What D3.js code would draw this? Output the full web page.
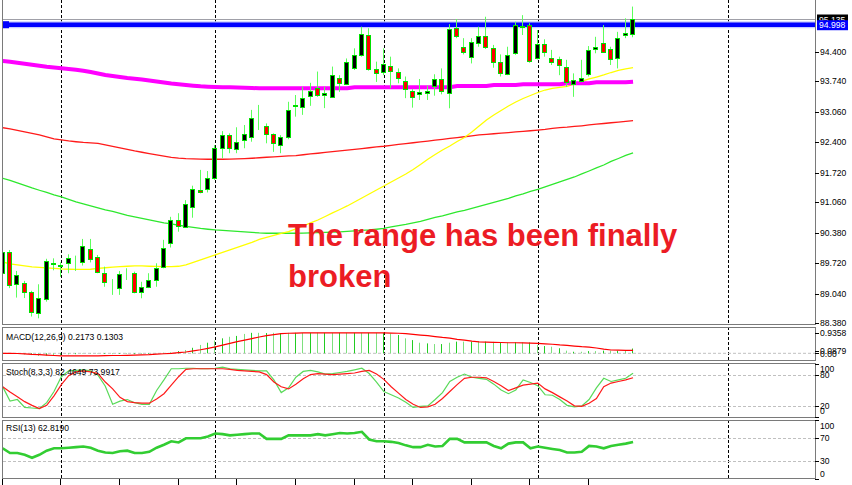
<!DOCTYPE html>
<html><head><meta charset="utf-8">
<script src="https://cdn.jsdelivr.net/npm/d3@7"></script>
<style>body{margin:0;background:#fff;}svg{display:block;font-family:"Liberation Sans",Arial,sans-serif;}</style>
</head><body>
<svg id="c" width="852" height="485"></svg>
<script>
// ---------- DATA ----------
const open = [89.496,89.96,89.245,89.28,89.07,88.60,88.92,89.695,89.64,89.72,
89.755,89.73,90.02,89.86,89.49,89.22,89.17,89.44,89.49,89.08,
89.19,89.34,89.635,90.155,90.67,90.52,90.965,91.335,91.36,91.61,
92.26,92.555,92.24,92.44,92.50,92.90,92.755,92.57,92.33,92.515,
93.19,93.17,93.42,93.59,93.43,93.40,93.81,93.685,94.03,94.33,
94.77,94.01,93.94,94.09,93.96,93.75,93.53,93.46,93.48,93.65,
93.795,93.48,94.93,94.51,94.29,94.60,94.755,94.49,94.165,93.91,
94.365,94.95,94.99,94.25,94.565,94.25,94.23,94.07,93.685,93.76,
93.91,94.46,94.60,94.45,94.25,94.77,94.79];
const close = [89.962,89.23,89.45,89.08,88.63,88.95,89.76,89.71,89.67,89.82,
89.77,90.10,89.81,89.51,89.30,89.235,89.47,89.46,89.08,89.19,
89.34,89.61,90.04,90.67,90.545,91.02,91.36,91.28,91.61,92.26,
92.555,92.26,92.39,92.575,92.925,92.915,92.57,92.38,92.515,93.11,
93.21,93.37,93.535,93.44,93.49,93.88,93.70,94.18,94.33,94.79,
94.01,93.92,94.12,93.98,93.81,93.57,93.39,93.51,93.53,93.795,
93.53,94.895,94.75,94.39,94.61,94.75,94.50,94.165,93.92,94.33,
94.99,94.97,94.20,94.565,94.40,94.165,94.105,93.735,93.77,93.81,
94.44,94.51,94.40,94.24,94.70,94.81,95.12];
const high = [90.05,90.005,89.54,89.32,89.10,89.245,89.81,89.82,89.73,89.91,
89.88,90.25,90.25,89.895,89.635,89.36,89.54,89.60,89.525,89.30,
89.49,89.71,90.23,90.74,90.82,91.11,91.43,91.78,91.755,92.33,
92.64,92.59,92.725,92.775,93.11,93.22,92.81,92.59,92.55,93.29,
93.44,93.62,93.71,93.96,93.62,94.07,93.88,94.25,94.475,94.955,
94.92,94.18,94.475,94.29,94.03,93.85,93.57,93.795,93.65,93.90,
94.03,95.01,95.125,94.70,94.70,94.955,95.175,94.55,94.34,94.51,
95.065,95.21,95.03,94.88,94.675,94.44,94.29,94.22,93.92,94.22,
94.525,94.73,94.99,94.51,94.84,95.14,95.40];
const low = [89.385,89.16,88.95,88.94,88.53,88.49,88.86,89.555,89.41,89.49,
89.54,89.66,89.73,89.49,89.19,89.01,89.01,89.34,89.045,88.935,
89.16,89.19,89.60,90.06,90.41,90.50,90.72,91.26,91.28,91.56,
92.04,92.15,92.15,92.26,92.405,92.665,92.37,92.18,92.15,92.46,
92.96,93.00,93.20,93.40,93.15,93.39,93.51,93.66,93.995,94.29,
93.98,93.73,93.88,93.59,93.70,93.37,93.16,93.33,93.33,93.425,
93.455,93.146,94.70,94.34,94.14,94.51,94.46,94.045,93.85,93.88,
94.33,94.77,94.155,94.23,94.29,94.105,93.88,93.62,93.40,93.735,
93.85,94.365,94.38,94.105,94.03,94.70,94.72];

// moving averages
const maMagenta = [94.194,94.176,94.154,94.132,94.110,94.088,94.065,94.048,94.032,94.017,
93.999,93.977,93.950,93.917,93.884,93.862,93.839,93.817,93.800,93.784,
93.762,93.740,93.718,93.695,93.678,93.662,93.647,93.633,93.624,93.618,
93.613,93.611,93.607,93.600,93.596,93.589,93.589,93.589,93.589,93.589,
93.589,93.589,93.589,93.589,93.589,93.589,93.589,93.589,93.611,93.611,
93.611,93.611,93.611,93.611,93.611,93.611,93.611,93.611,93.611,93.611,
93.611,93.611,93.640,93.640,93.640,93.640,93.640,93.662,93.662,93.662,
93.662,93.678,93.678,93.678,93.678,93.678,93.678,93.700,93.700,93.700,
93.700,93.722,93.722,93.722,93.722,93.722,93.735];
const maRed = [92.716,92.688,92.654,92.621,92.588,92.555,92.510,92.466,92.444,92.422,
92.404,92.388,92.377,92.366,92.333,92.300,92.267,92.233,92.200,92.171,
92.140,92.111,92.085,92.060,92.040,92.029,92.023,92.018,92.016,92.016,
92.016,92.018,92.023,92.029,92.038,92.049,92.060,92.069,92.078,92.089,
92.098,92.116,92.134,92.149,92.167,92.185,92.200,92.218,92.233,92.251,
92.271,92.289,92.304,92.324,92.344,92.362,92.382,92.400,92.419,92.439,
92.457,92.477,92.497,92.515,92.535,92.555,92.568,92.581,92.594,92.608,
92.621,92.634,92.648,92.661,92.677,92.699,92.716,92.727,92.743,92.758,
92.776,92.794,92.809,92.825,92.838,92.854,92.871];
const maGreen = [91.595,91.546,91.491,91.435,91.380,91.329,91.280,91.225,91.180,91.125,
91.070,91.025,90.981,90.937,90.892,90.859,90.819,90.770,90.737,90.704,
90.671,90.637,90.604,90.582,90.553,90.527,90.504,90.482,90.465,90.449,
90.438,90.427,90.416,90.405,90.394,90.383,90.376,90.376,90.376,90.376,
90.376,90.378,90.383,90.389,90.394,90.401,90.405,90.416,90.427,90.438,
90.449,90.465,90.482,90.516,90.544,90.571,90.604,90.637,90.682,90.726,
90.759,90.804,90.848,90.881,90.925,90.970,91.014,91.058,91.103,91.147,
91.202,91.247,91.302,91.346,91.402,91.457,91.513,91.568,91.623,91.690,
91.756,91.823,91.889,91.967,92.033,92.100,92.155];
const maYellow = [89.740,89.695,89.673,89.651,89.629,89.618,89.607,89.596,89.585,89.578,
89.574,89.574,89.578,89.596,89.611,89.625,89.636,89.644,89.651,89.651,
89.644,89.640,89.636,89.636,89.644,89.673,89.729,89.784,89.839,89.895,
89.950,90.006,90.061,90.116,90.172,90.238,90.282,90.327,90.371,90.411,
90.471,90.537,90.604,90.670,90.748,90.826,90.903,90.981,91.069,91.158,
91.247,91.335,91.424,91.512,91.601,91.690,91.790,91.900,92.016,92.122,
92.222,92.310,92.410,92.499,92.621,92.754,92.887,92.998,93.097,93.197,
93.285,93.363,93.429,93.496,93.551,93.585,93.607,93.629,93.684,93.740,
93.795,93.839,93.884,93.939,93.984,94.017,94.045];

// MACD(12,26,9)
const macdMain = [0.02,0.00,-0.03,-0.05,-0.08,-0.12,-0.10,-0.08,-0.07,-0.05,
-0.04,-0.02,-0.01,-0.02,-0.03,-0.04,-0.03,-0.03,-0.04,-0.04,
-0.03,-0.01,0.02,0.05,0.10,0.15,0.25,0.38,0.48,0.58,
0.68,0.75,0.79,0.88,0.93,0.93,0.92,0.93,0.92,0.93,
0.93,0.93,0.93,0.9358,0.93,0.93,0.93,0.93,0.93,0.93,
0.93,0.93,0.93,0.90,0.83,0.68,0.60,0.48,0.45,0.42,
0.42,0.48,0.53,0.53,0.53,0.54,0.53,0.52,0.50,0.49,
0.50,0.50,0.49,0.38,0.33,0.30,0.23,0.12,0.07,0.07,
0.10,0.10,0.12,0.12,0.12,0.12,0.2173];
const macdSignal = [0.00,0.00,-0.01,-0.03,-0.05,-0.06,-0.08,-0.10,-0.12,-0.12,
-0.12,-0.12,-0.12,-0.12,-0.11,-0.10,-0.10,-0.09,-0.08,-0.07,
-0.06,-0.04,-0.02,0.00,0.03,0.06,0.11,0.16,0.22,0.29,
0.37,0.45,0.53,0.60,0.67,0.74,0.80,0.85,0.89,0.91,
0.92,0.93,0.93,0.93,0.93,0.93,0.93,0.93,0.93,0.93,
0.93,0.93,0.93,0.92,0.91,0.89,0.86,0.83,0.80,0.76,
0.72,0.69,0.63,0.60,0.55,0.52,0.51,0.50,0.49,0.48,
0.48,0.47,0.46,0.45,0.43,0.41,0.38,0.36,0.33,0.30,
0.28,0.24,0.19,0.15,0.14,0.13,0.1303];

// Stochastic(8,3,3)
const stochMain = [57,30,33,18,17,16,27,48,76,87,
88,89,87,79,58,24,30,33,27,24,
24,50,70,91,91,92,92,91,91,92,
94,91,90,89,88,87,87,70,46,55,
75,86,88,85,81,82,84,86,89,92,
82,66,48,42,36,28,18,20,21,33,
46,67,75,81,75,73,71,62,51,44,
51,70,65,59,42,41,33,22,19,21,
33,55,73,67,70,73,82.4649];
const stochSignal = [57,47,38,29,22,16,22,40,61,78,
85,87,85,82,66,53,37,29,27,26,
26,34,44,60,76,90,91,91,91,91,
91,90,88,87,86,85,80,66,57,53,
62,72,80,82,81,80,81,82,83,86,
88,81,71,57,45,33,24,18,19,24,
35,48,61,73,75,75,74,67,59,50,
55,60,62,64,53,46,38,30,21,20,
26,35,57,64,67,70,73.9917];

// RSI(13)
const rsi = [52,44,44,41,36,41,48,52,52,53,
54,55,53,48,45,44,47,48,44,44,
46,53,58,64,62,69,69,69,72,77,
76,74,75,76,77,77,68,68,68,74,
74,74,74,76,74,76,78,77,78,80,
67,64,64,63,61,57,54,54,58,55,
56,68,68,62,62,62,62,56,52,60,
62,62,52,55,53,51,49,45,45,46,
56,55,52,56,58,60,62.819];

const priceTicks = ["94.400","93.740","93.060","92.400","91.720","91.060","90.380","89.720","89.040","88.380"];
const macdTicks = ["0.9358","0.0879","0.00"];
const stochTicks = ["100","80","20","0"];
const rsiTicks = ["100","70","30","0"];
const stochLevels = [80,20];
const rsiLevels = [70,30];
const resistance = 94.998;
const bidPrice = 95.135;
const separatorBars = [8,29,52,73,99];
const timeTickStep = 8;
const labels = {
  macd: "MACD(12,26,9) 0.2173 0.1303",
  stoch: "Stoch(8,3,3) 82.4649 73.9917",
  rsi: "RSI(13) 62.8190"
};
const annotation = ["The range has been finally", "broken"];

// ---------- LAYOUT ----------
const L = 3, R = 815;
const P = {
  main: {top: -2, bottom: 325},
  macd: {top: 327, bottom: 361},
  stoch: {top: 363, bottom: 418},
  rsi: {top: 420, bottom: 479}
};
const n = open.length;
const x = d3.scaleLinear().domain([0, 111]).range([2.7, 816.3]);
const yMain = d3.scaleLinear().domain([88.38, 94.40]).range([323.3, 51.7]);
const yMacd = d3.scaleLinear().domain([0, 0.9358]).range([353.3, 332.7]);
const yStoch = d3.scaleLinear().domain([0, 100]).range([417, 364]);
const yRsi = d3.scaleLinear().domain([0, 100]).range([479, 420]);

const svg = d3.select("#c");
const defs = svg.append("defs");
Object.entries(P).forEach(([k, p]) => {
  defs.append("clipPath").attr("id", "clip-" + k)
    .append("rect").attr("x", L).attr("y", p.top).attr("width", R - L).attr("height", p.bottom - p.top);
});
svg.append("rect").attr("width", 852).attr("height", 485).attr("fill", "#fff");

// period separators
const sepG = svg.append("g");
Object.entries(P).forEach(([k, p]) => {
  separatorBars.forEach(b => {
    const xx = Math.round(x(b)) + 0.5;
    sepG.append("line").attr("x1", xx).attr("x2", xx).attr("y1", Math.max(p.top, 0)).attr("y2", p.bottom)
      .attr("stroke", "#000").attr("stroke-dasharray", "3,2").attr("stroke-width", 1);
  });
});

// ---------- MAIN PANEL ----------
const gMain = svg.append("g").attr("clip-path", "url(#clip-main)");
const idx = d3.range(n);
const lineFor = (arr, ys) => d3.line().x((d, i) => x(i)).y(d => ys(d))(arr);

gMain.append("path").attr("d", lineFor(maRed, yMain)).attr("fill", "none").attr("stroke", "#ff1a1a").attr("stroke-width", 1.3);
gMain.append("path").attr("d", lineFor(maGreen, yMain)).attr("fill", "none").attr("stroke", "#2ee82e").attr("stroke-width", 1.3);
gMain.append("path").attr("d", lineFor(maYellow, yMain)).attr("fill", "none").attr("stroke", "#ffff00").attr("stroke-width", 1.3);
gMain.append("path").attr("d", lineFor(maMagenta, yMain)).attr("fill", "none").attr("stroke", "#ff00ff").attr("stroke-width", 4);

// bid line
const yb = Math.round(yMain(bidPrice)) + 0.5;
gMain.append("line").attr("x1", L).attr("x2", R).attr("y1", yb).attr("y2", yb).attr("stroke", "#a0a0a8").attr("stroke-width", 1);
// resistance line
const yr = yMain(resistance);
gMain.append("line").attr("x1", L).attr("x2", R + 3).attr("y1", yr).attr("y2", yr).attr("stroke", "#c8ccff").attr("stroke-width", 7);
gMain.append("line").attr("x1", L).attr("x2", R + 3).attr("y1", yr).attr("y2", yr).attr("stroke", "#0000ff").attr("stroke-width", 4.5);
svg.append("rect").attr("x", L).attr("y", yr - 3.5).attr("width", 6).attr("height", 7).attr("fill", "#0000ff");

// candles
const cg = gMain.append("g");
idx.forEach(i => {
  const cx = Math.round(x(i));
  cg.append("line").attr("x1", cx - 0.5).attr("x2", cx - 0.5)
    .attr("y1", yMain(high[i])).attr("y2", yMain(low[i]))
    .attr("stroke", "#5cff5c").attr("stroke-width", 1);
  const yt = Math.round(yMain(Math.max(open[i], close[i])));
  const ybt = Math.round(yMain(Math.min(open[i], close[i])));
  cg.append("rect").attr("x", cx - 2.5).attr("y", yt + 0.5).attr("width", 4).attr("height", Math.max(0, ybt - yt))
    .attr("fill", close[i] >= open[i] ? "#000" : "#ff0000")
    .attr("stroke", "#00e000").attr("stroke-width", 1);
});

// annotation
annotation.forEach((t, k) => {
  svg.append("text").attr("x", 288).attr("y", 246 + k * 41).text(t)
    .attr("fill", "#ec1c24").attr("font-size", 31).attr("font-weight", "bold");
});

// ---------- MACD ----------
const gM = svg.append("g").attr("clip-path", "url(#clip-macd)");
gM.append("line").attr("x1", L).attr("x2", R).attr("y1", yMacd(0)).attr("y2", yMacd(0))
  .attr("stroke", "#c0c0c0").attr("stroke-dasharray", "3,2");
idx.forEach(i => {
  const cx = Math.round(x(i)) - 0.5;
  gM.append("line").attr("x1", cx).attr("x2", cx).attr("y1", yMacd(0)).attr("y2", yMacd(macdMain[i]))
    .attr("stroke", i % 2 ? "#7ee07e" : "#22cc22").attr("stroke-width", 1);
});
gM.append("path").attr("d", lineFor(macdSignal, yMacd)).attr("fill", "none").attr("stroke", "#ff0000").attr("stroke-width", 1.2);

// ---------- STOCH ----------
const gS = svg.append("g").attr("clip-path", "url(#clip-stoch)");
stochLevels.forEach(v => gS.append("line").attr("x1", L).attr("x2", R).attr("y1", Math.round(yStoch(v)) + 0.5).attr("y2", Math.round(yStoch(v)) + 0.5)
  .attr("stroke", "#c0c0c0").attr("stroke-dasharray", "3,2"));
gS.append("path").attr("d", lineFor(stochMain, yStoch)).attr("fill", "none").attr("stroke", "#5ada5a").attr("stroke-width", 1.2);
gS.append("path").attr("d", lineFor(stochSignal, yStoch)).attr("fill", "none").attr("stroke", "#ff1a1a").attr("stroke-width", 1.2);

// ---------- RSI ----------
const gR = svg.append("g").attr("clip-path", "url(#clip-rsi)");
rsiLevels.forEach(v => gR.append("line").attr("x1", L).attr("x2", R).attr("y1", Math.round(yRsi(v)) + 0.5).attr("y2", Math.round(yRsi(v)) + 0.5)
  .attr("stroke", "#c0c0c0").attr("stroke-dasharray", "3,2"));
gR.append("path").attr("d", lineFor(rsi, yRsi)).attr("fill", "none").attr("stroke", "#32cd32").attr("stroke-width", 2.6);

// ---------- FRAMES ----------
Object.entries(P).forEach(([k, p]) => {
  svg.append("rect").attr("x", L - 0.5).attr("y", p.top + 0.5).attr("width", R - L + 1).attr("height", p.bottom - p.top - 1)
    .attr("fill", "none").attr("stroke", "#7a7a7a").attr("stroke-width", 1);
});

// panel labels
const lab = (t, yy) => svg.append("text").attr("x", 6).attr("y", yy).text(t).attr("font-size", 8.6).attr("fill", "#000");
lab(labels.macd, 339.5); lab(labels.stoch, 375); lab(labels.rsi, 431);

// ---------- RIGHT AXIS ----------
const ax = svg.append("g");
const tickLab = (yy, t, ty) => {
  ax.append("line").attr("x1", R).attr("x2", R + 4).attr("y1", Math.round(yy) + 0.5).attr("y2", Math.round(yy) + 0.5).attr("stroke", "#000");
  ax.append("text").attr("x", R + 5).attr("y", ty === undefined ? yy : ty).attr("dy", "0.35em").text(t).attr("font-size", 8.6).attr("fill", "#000");
};
priceTicks.forEach(t => tickLab(yMain(+t), t));
macdTicks.forEach(t => tickLab(yMacd(+t), t, +t === 0 ? yMacd(0) + 1 : undefined));
stochTicks.forEach(t => { const v = +t; tickLab(yStoch(v), t, v === 100 ? yStoch(v) + 5 : v === 0 ? yStoch(v) - 6 : undefined); });
rsiTicks.forEach(t => { const v = +t; tickLab(yRsi(v), t, v === 100 ? yRsi(v) + 6 : v === 0 ? yRsi(v) - 5 : undefined); });

// bid label (black) and resistance label (blue)
ax.append("rect").attr("x", R + 2).attr("y", yb - 5).attr("width", 31).attr("height", 9).attr("fill", "#000");
ax.append("text").attr("x", R + 4).attr("y", yb).attr("dy", "0.35em").text(bidPrice.toFixed(3)).attr("font-size", 8.6).attr("fill", "#fff");
ax.append("rect").attr("x", R + 2).attr("y", yr - 4.5).attr("width", 31).attr("height", 10).attr("fill", "#0000ff");
ax.append("text").attr("x", R + 4).attr("y", yr + 0.5).attr("dy", "0.35em").text(resistance.toFixed(3)).attr("font-size", 8.6).attr("fill", "#fff");

// bottom time ticks
d3.range(0, n, timeTickStep).forEach(b => {
  const xx = Math.round(x(b)) - 0.5;
  ax.append("line").attr("x1", xx).attr("x2", xx).attr("y1", 479).attr("y2", 485).attr("stroke", "#000");
});
</script>
</body></html>
